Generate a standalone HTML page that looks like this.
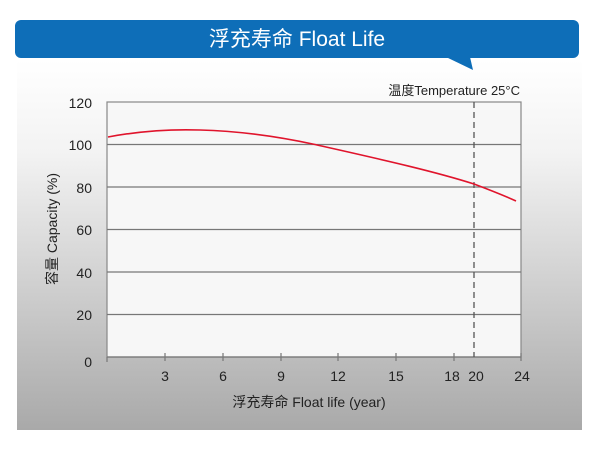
<!DOCTYPE html>
<html><head><meta charset="utf-8"><style>
body{margin:0;width:600px;height:451px;background:#fff;overflow:hidden;font-family:"Liberation Sans","Noto Sans CJK SC",sans-serif}
</style></head><body>
<svg width="600" height="451" viewBox="0 0 600 451" xmlns="http://www.w3.org/2000/svg" style="position:absolute;left:0;top:0">
<defs>
<linearGradient id="g" x1="0" y1="0" x2="0" y2="1">
<stop offset="0" stop-color="#ffffff"/><stop offset="0.25" stop-color="#f3f3f3"/><stop offset="1" stop-color="#a9a9a9"/>
</linearGradient>
</defs>
<rect x="17" y="60" width="565" height="370" fill="url(#g)"/>
<rect x="15" y="20" width="564" height="38" rx="6" fill="#0e6eb8"/>
<polygon points="446,57 470,57 473,70" fill="#0e6eb8"/>
<text x="297" y="46" text-anchor="middle" fill="#fff" font-size="21">浮充寿命 Float Life</text>
<rect x="107" y="102" width="414" height="255" fill="#f7f7f7" stroke="#888" stroke-width="1.2"/>
<g stroke="#777" stroke-width="1.2">
<line x1="107" y1="144.5" x2="521" y2="144.5"/>
<line x1="107" y1="187" x2="521" y2="187"/>
<line x1="107" y1="229.5" x2="521" y2="229.5"/>
<line x1="107" y1="272" x2="521" y2="272"/>
<line x1="107" y1="314.5" x2="521" y2="314.5"/>
<line x1="107" y1="357" x2="521" y2="357"/>
<line x1="107" y1="357" x2="107" y2="362"/>
<line x1="165" y1="353" x2="165" y2="361"/><line x1="223" y1="353" x2="223" y2="361"/>
<line x1="281" y1="353" x2="281" y2="361"/><line x1="338" y1="353" x2="338" y2="361"/>
<line x1="396" y1="353" x2="396" y2="361"/><line x1="454" y1="353" x2="454" y2="361"/>
<line x1="521" y1="353" x2="521" y2="361"/>
</g>
<line x1="474" y1="102" x2="474" y2="357" stroke="#555" stroke-width="1.3" stroke-dasharray="6,4"/>
<path d="M108,137 C140,131 170,129 200,130 C240,131 280,137 315,144.5 C370,157 430,170 474,184 C490,190 505,196 516,201" fill="none" stroke="#e0142c" stroke-width="1.6"/>
<g font-size="14" fill="#222" text-anchor="end">
<text x="92" y="108">120</text><text x="92" y="150">100</text><text x="92" y="193">80</text>
<text x="92" y="235">60</text><text x="92" y="278">40</text><text x="92" y="320">20</text><text x="92" y="367">0</text>
</g>
<g font-size="14" fill="#222" text-anchor="middle">
<text x="165" y="381">3</text><text x="223" y="381">6</text><text x="281" y="381">9</text>
<text x="338" y="381">12</text><text x="396" y="381">15</text><text x="452" y="381">18</text>
<text x="476" y="381">20</text><text x="522" y="381">24</text>
</g>
<text x="309" y="407" text-anchor="middle" font-size="14" fill="#222">浮充寿命  Float life (year)</text>
<text transform="translate(57,229) rotate(-90)" text-anchor="middle" font-size="14" fill="#222">容量  Capacity (%)</text>
<text x="520" y="95" text-anchor="end" font-size="13" fill="#222">温度Temperature 25°C</text>
</svg>
</body></html>
